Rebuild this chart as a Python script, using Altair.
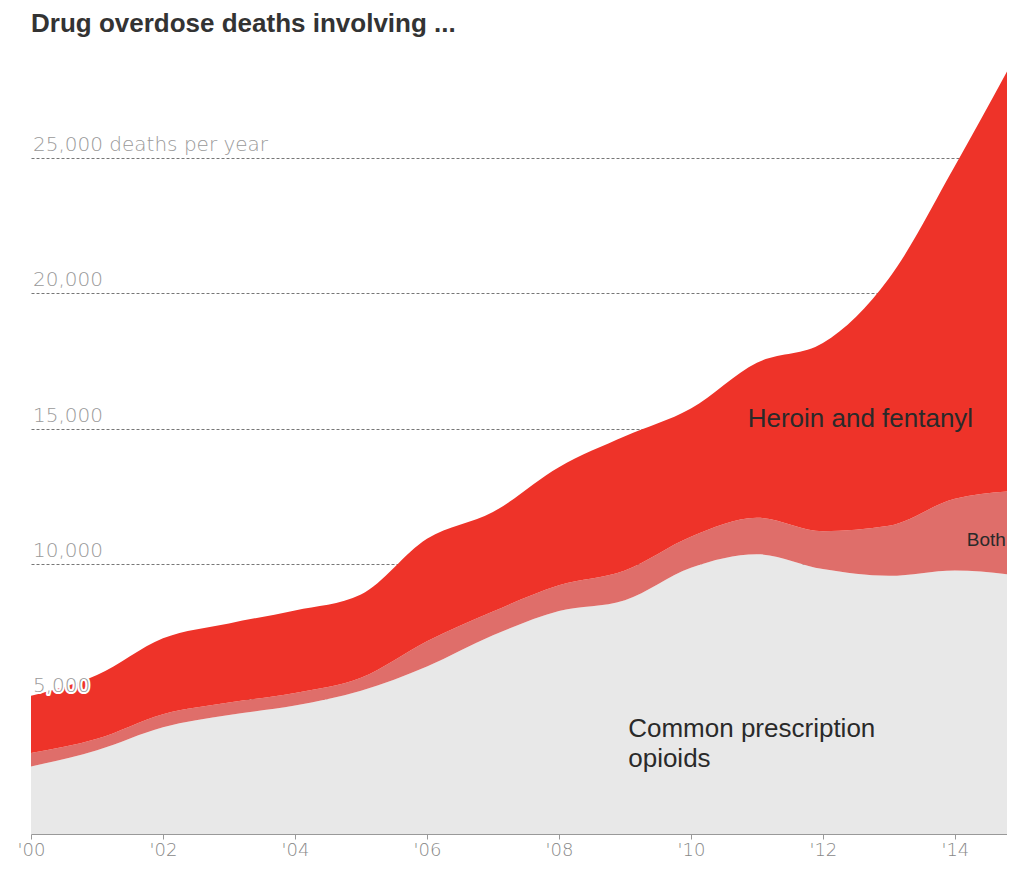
import altair as alt
import pandas as pd

# ---- data ----
years = list(range(2000, 2016))
prescription = [2500, 3100, 3950, 4400, 4750, 5300, 6200, 7350, 8250, 8650, 9850, 10350, 9800, 9550, 9750, 9550]
both = [500, 420, 480, 460, 470, 480, 930, 880, 950, 1100, 1150, 1350, 1400, 1850, 2650, 3150]
heroin = [2110, 2360, 2810, 2930, 3050, 3080, 3790, 3680, 4370, 4960, 4740, 5730, 6960, 9150, 12310, 16450]

categories = ["Common prescription opioids", "Both", "Heroin and fentanyl"]
colors = ["#e8e8e8", "#df6e6a", "#ee3329"]

tick_years = [2000, 2002, 2004, 2006, 2008, 2010, 2012, 2014]
grid_values = [5000, 10000, 15000, 20000, 25000]
grid_labels = ["5,000", "10,000", "15,000", "20,000", "25,000 deaths per year"]

title_text = ["Drug overdose deaths involving ..."]

ann_text = ["Heroin and fentanyl", "Both", "Common prescription", "opioids"]
ann_year = [2010.86, 2014.18, 2009.05, 2009.05]
ann_value = [15370, 10880, 3900, 2790]
ann_size = [26, 19, 26, 26]

# ---- tables ----
rows = []
for i, y in enumerate(years):
    for k, (cat, vals) in enumerate(zip(categories, [prescription, both, heroin])):
        rows.append({"year": y, "category": cat, "value": vals[i], "order": k})
df = pd.DataFrame(rows)
grid_df = pd.DataFrame({"value": grid_values, "label": grid_labels})
ann_df = pd.DataFrame({"year": ann_year, "value": ann_value, "text": ann_text, "fs": ann_size})
title_df = pd.DataFrame({"text": title_text})

ymax = prescription[-1] + both[-1] + heroin[-1]
xscale = alt.Scale(domain=[2000, 2014.79], nice=False, zero=False)
yscale = alt.Scale(domain=[0, ymax], nice=False)

xaxis = alt.Axis(values=tick_years, grid=False, title=None,
                 labelExpr="\"'\" + substring(toString(datum.value), 2)",
                 labelFont="DejaVu Sans", labelFontWeight=200, labelFontSize=18,
                 labelColor="#888", domainColor="#999", tickColor="#999",
                 tickSize=5, labelPadding=2, labelFlush=False, zindex=1)
yaxis = alt.Axis(values=grid_values, grid=True, gridDash=[3, 2], gridColor="#777",
                 gridWidth=1, labels=False, ticks=False, domain=False, title=None, zindex=0)

area = alt.Chart(df).mark_area(interpolate="monotone", clip=True).encode(
    x=alt.X("year:Q", scale=xscale, axis=xaxis),
    y=alt.Y("value:Q", stack="zero", scale=yscale, axis=yaxis),
    color=alt.Color("category:N", scale=alt.Scale(domain=categories, range=colors), legend=None),
    order=alt.Order("order:Q"),
)

label_halo = alt.Chart(grid_df).mark_text(
    align="left", baseline="alphabetic", dx=2, dy=-7, font="DejaVu Sans", fontWeight=200,
    fontSize=20, color="white", stroke="white", strokeWidth=4, strokeJoin="round"
).encode(x=alt.value(0), y=alt.Y("value:Q", scale=yscale, axis=yaxis), text="label:N")

label_text = alt.Chart(grid_df).mark_text(
    align="left", baseline="alphabetic", dx=2, dy=-7, font="DejaVu Sans", fontWeight=200,
    fontSize=20, color="#999"
).encode(x=alt.value(0), y=alt.Y("value:Q", scale=yscale, axis=yaxis), text="label:N")

ann = alt.Chart(ann_df).mark_text(
    align="left", baseline="middle", font="Liberation Sans", color="#2a2a2a"
).encode(
    x=alt.X("year:Q", scale=xscale, axis=xaxis),
    y=alt.Y("value:Q", scale=yscale, axis=yaxis),
    text="text:N",
    size=alt.Size("fs:Q", scale=None),
)

title = alt.Chart(title_df).mark_text(
    align="left", baseline="alphabetic", font="Liberation Sans", fontWeight="bold",
    fontSize=26, color="#333"
).encode(x=alt.value(0), y=alt.value(-14), text="text:N")

chart = alt.layer(area, label_halo, label_text, ann, title).properties(
    width=976,
    height=788,
    autosize=alt.AutoSizeParams(type="none"),
    padding={"left": 23, "top": 38, "right": 0, "bottom": 29},
).configure_view(stroke=None)

chart.save("out.html", embed_options={"renderer": "svg", "actions": False})
